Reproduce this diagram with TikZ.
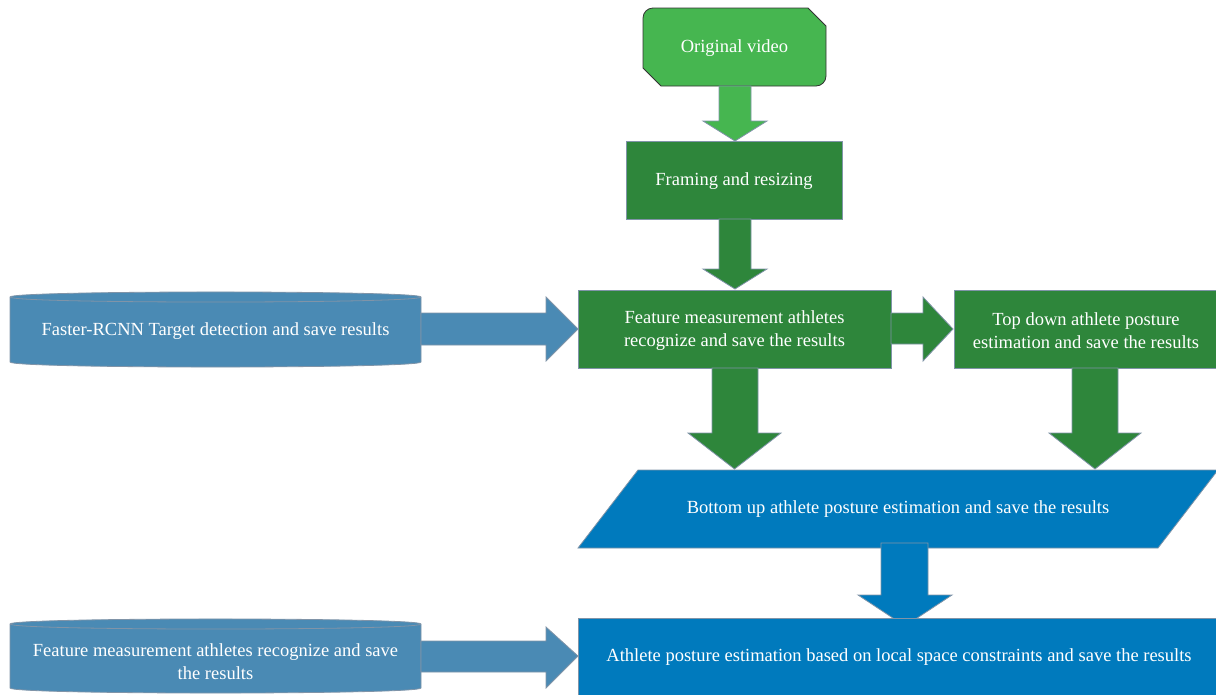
\documentclass[tikz,border=0pt]{standalone}
\usepackage{fontspec}
\setmainfont{Liberation Serif}
\definecolor{lgreen}{RGB}{70,182,80}
\definecolor{dgreen}{RGB}{46,134,59}
\definecolor{bblue}{RGB}{0,122,189}
\definecolor{sblue}{RGB}{74,138,180}
\definecolor{edge}{RGB}{128,148,168}
\tikzset{
  txt/.style={text=white, font=\fontsize{18.5}{23}\selectfont, align=center, yshift=-1.5pt},
  gbox/.style={fill=dgreen, draw=edge, line width=0.8pt},
  barrow/.style={draw=edge, line width=0.8pt},
}
\begin{document}
\begin{tikzpicture}[x=1pt,y=-1pt]
\useasboundingbox (0,0) rectangle (1216,694);
% Original video
\draw[fill=lgreen, draw=black!80, line width=0.8pt]
  (643,18) .. controls (643,12.5) and (647.5,8) .. (653,8) -- (808,8) -- (826,26)
  -- (826,76) .. controls (826,81.5) and (821.5,86) .. (816,86) -- (661,86) -- (643,68) -- cycle;
\node[txt] (orig) at (734.5,47) {Original video};
% arrow 1
\draw[barrow, fill=lgreen] (719,86) -- (751,86) -- (751,121) -- (767,121) -- (735,141) -- (703,121) -- (719,121) -- cycle;
% Framing
\node[gbox, minimum width=216, minimum height=78, inner sep=0] (frame) at (734,180) {};
\node[txt] at (frame) {Framing and resizing};
% arrow 2
\draw[barrow, fill=dgreen] (719,219) -- (751,219) -- (751,269) -- (767,269) -- (735,289) -- (703,269) -- (719,269) -- cycle;
% Feature box
\node[gbox, minimum width=313, minimum height=78, inner sep=0] (feat) at (734.5,329) {};
\node[txt] at (feat) {Feature measurement athletes\\recognize and save the results};
% right arrow
\draw[barrow, fill=dgreen] (891,313) -- (923,313) -- (923,297) -- (953,329) -- (923,361) -- (923,344) -- (891,344) -- cycle;
% Top down box
\node[gbox, minimum width=264, minimum height=78, inner sep=0] (top) at (1086,329) {};
\node[txt] at (top) {Top down athlete posture\\estimation and save the results};
% down arrows
\draw[barrow, fill=dgreen] (712,368) -- (758,368) -- (758,433) -- (781,433) -- (734.5,469) -- (688,433) -- (712,433) -- cycle;
\draw[barrow, fill=dgreen] (1072,368) -- (1118,368) -- (1118,433) -- (1141,433) -- (1095,469) -- (1049,433) -- (1072,433) -- cycle;
% parallelogram
\draw[fill=bblue, draw=edge, line width=0.8pt] (638,470) -- (1218,470) -- (1158,548) -- (578,548) -- cycle;
\node[txt] (bottom) at (898,508) {Bottom up athlete posture estimation and save the results};
% blue arrow
\draw[barrow, fill=bblue] (881,543) -- (928,543) -- (928,595) -- (952,595) -- (905,626) -- (858,595) -- (881,595) -- cycle;
% final box
\draw[fill=bblue, draw=edge, line width=0.8pt] (578,696) -- (578,618) -- (1218,618) -- (1218,696);
\node[txt] (final) at (899,656) {Athlete posture estimation based on local space constraints and save the results};
% cylinder 1
\draw[fill=sblue, draw=edge, line width=0.8pt]
  (10,297) .. controls (10,290.3) and (421,290.3) .. (421,297)
  -- (421,362) .. controls (421,368.7) and (10,368.7) .. (10,362) -- cycle;
\draw[edge, line width=0.8pt] (10,297) .. controls (10,303.7) and (421,303.7) .. (421,297);
\node[txt] (faster) at (215.5,330) {Faster-RCNN Target detection and save results};
\draw[barrow, fill=sblue] (421,313) -- (546,313) -- (546,297) -- (578,329) -- (546,361) -- (546,345) -- (421,345) -- cycle;
% cylinder 2
\draw[fill=sblue, draw=edge, line width=0.8pt]
  (10,624) .. controls (10,617.3) and (421,617.3) .. (421,624)
  -- (421,688) .. controls (421,694.7) and (10,694.7) .. (10,688) -- cycle;
\draw[edge, line width=0.8pt] (10,624) .. controls (10,630.7) and (421,630.7) .. (421,624);
\node[txt] (featm) at (215.5,660) {Feature measurement athletes recognize and save\\the results};
\draw[barrow, fill=sblue] (421,641) -- (546,641) -- (546,627) -- (578,656) -- (546,688) -- (546,672) -- (421,672) -- cycle;
\end{tikzpicture}
\end{document}
